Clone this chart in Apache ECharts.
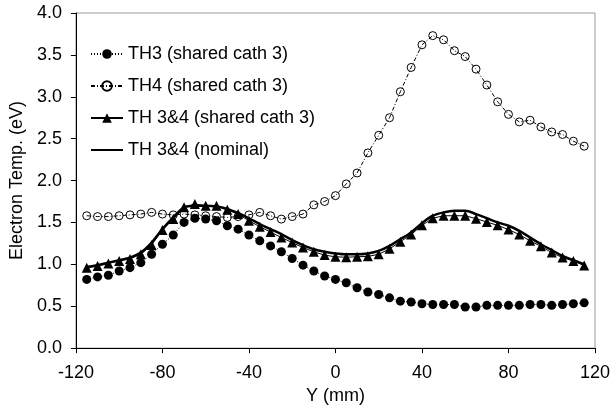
<!DOCTYPE html>
<html>
<head>
<meta charset="utf-8">
<script src="https://cdn.jsdelivr.net/npm/echarts@6/dist/echarts.min.js"></script>
<style>
  html, body { margin: 0; padding: 0; background: #fff; }
  #chart { width: 613px; height: 410px; }
</style>
</head>
<body>
<div id="chart"></div>
<script>
// Probe position across the channel (mm)
const positions = [-115, -110, -105, -100, -95, -90, -85, -80, -75, -70, -65, -60, -55, -50, -45, -40, -35, -30, -25, -20, -15, -10, -5, 0,
  5, 10, 15, 20, 25, 30, 35, 40, 45, 50, 55, 60, 65, 70, 75, 80, 85, 90, 95, 100, 105, 110, 115];

// Electron temperature (eV)
const th3Shared = [0.82, 0.85, 0.87, 0.92, 0.96, 1.02, 1.12, 1.24, 1.35, 1.50, 1.55, 1.54, 1.52, 1.46, 1.42, 1.35, 1.28, 1.22, 1.15, 1.07, 0.99, 0.92, 0.86, 0.82,
  0.78, 0.72, 0.67, 0.64, 0.60, 0.56, 0.55, 0.53, 0.52, 0.52, 0.52, 0.49, 0.49, 0.51, 0.51, 0.51, 0.51, 0.52, 0.52, 0.51, 0.52, 0.53, 0.54];
const th4Shared = [1.58, 1.57, 1.57, 1.58, 1.59, 1.60, 1.62, 1.60, 1.59, 1.60, 1.59, 1.58, 1.57, 1.56, 1.57, 1.59, 1.62, 1.58, 1.54, 1.57, 1.60, 1.71, 1.75, 1.82,
  1.96, 2.09, 2.33, 2.54, 2.75, 3.06, 3.35, 3.62, 3.73, 3.68, 3.55, 3.48, 3.33, 3.14, 2.94, 2.79, 2.70, 2.72, 2.64, 2.58, 2.55, 2.47, 2.41];
const th34Shared = [0.96, 0.98, 1.01, 1.04, 1.065, 1.12, 1.23, 1.41, 1.54, 1.68, 1.72, 1.70, 1.70, 1.65, 1.60, 1.52, 1.45, 1.385, 1.32, 1.26, 1.20, 1.15, 1.11, 1.09,
  1.085, 1.09, 1.095, 1.12, 1.185, 1.27, 1.355, 1.465, 1.55, 1.58, 1.58, 1.58, 1.545, 1.505, 1.465, 1.415, 1.355, 1.28, 1.215, 1.14, 1.08, 1.04, 0.985];
const th34Nominal = [0.97, 0.99, 1.02, 1.05, 1.08, 1.14, 1.26, 1.42, 1.56, 1.68, 1.70, 1.70, 1.69, 1.66, 1.61, 1.55, 1.48, 1.42, 1.36, 1.29, 1.23, 1.18, 1.15, 1.13,
  1.12, 1.12, 1.13, 1.16, 1.22, 1.30, 1.38, 1.49, 1.58, 1.62, 1.64, 1.64, 1.60, 1.55, 1.50, 1.46, 1.40, 1.32, 1.24, 1.17, 1.10, 1.05, 1.00];

const seriesNames = ['TH3 (shared cath 3)', 'TH4 (shared cath 3)', 'TH 3&4 (shared cath 3)', 'TH 3&4 (nominal)'];

const pairs = vals => positions.map((x, i) => [x, vals[i]]);
const FONT = '"Liberation Sans", Arial, sans-serif';

const chart = echarts.init(document.getElementById('chart'), null, { renderer: 'canvas' });
chart.setOption({
  animation: false,
  backgroundColor: '#ffffff',
  textStyle: { fontFamily: FONT, color: '#000' },
  grid: { left: 67, right: 17, top: 13, bottom: 52, show: true, borderColor: '#999', borderWidth: 1 },
  legend: {
    orient: 'vertical',
    left: 85, top: 39,
    itemWidth: 32, itemHeight: 12, itemGap: 12,
    data: [
      { name: seriesNames[0] },
      { name: seriesNames[1] },
      { name: seriesNames[2] },
      // plain line, no marker
      { name: seriesNames[3], itemStyle: { color: 'rgba(0,0,0,0)', borderWidth: 0 } }
    ],
    textStyle: { fontFamily: FONT, fontSize: 18, color: '#000', lineHeight: 20 }
  },
  xAxis: {
    type: 'value', min: -120, max: 120, interval: 40,
    name: 'Y (mm)', nameLocation: 'middle', nameGap: 30,
    nameTextStyle: { fontFamily: FONT, fontSize: 18, color: '#000' },
    axisLine: { onZero: false, lineStyle: { color: '#000', width: 1 } },
    axisTick: { show: true, inside: false, length: 5, lineStyle: { color: '#000' } },
    axisLabel: { fontFamily: FONT, fontSize: 18, color: '#000', margin: 16 },
    splitLine: { show: false }
  },
  yAxis: {
    type: 'value', min: 0, max: 4, interval: 0.5,
    name: 'Electron Temp. (eV)', nameLocation: 'middle', nameGap: 42,
    nameTextStyle: { fontFamily: FONT, fontSize: 18, color: '#000' },
    axisLine: { show: true, onZero: false, lineStyle: { color: '#000', width: 1 } },
    axisTick: { show: true, inside: false, length: 5, lineStyle: { color: '#000' } },
    axisLabel: { fontFamily: FONT, fontSize: 18, color: '#000', margin: 14, formatter: v => v.toFixed(1) },
    splitLine: { show: false }
  },
  series: [
    {
      name: seriesNames[0], type: 'line', data: pairs(th3Shared), z: 2,
      symbol: 'circle', symbolSize: 9,
      lineStyle: { color: '#000', width: 1, type: [1, 2] },
      itemStyle: { color: '#000' }
    },
    {
      name: seriesNames[1], type: 'line', data: pairs(th4Shared), z: 1,
      symbol: 'circle', symbolSize: 8,
      lineStyle: { color: '#000', width: 1, type: [4, 2, 1, 2] },
      itemStyle: { color: 'rgba(255,255,255,0)', borderColor: '#000', borderWidth: 1 }
    },
    {
      name: seriesNames[2], type: 'line', data: pairs(th34Shared), z: 3,
      symbol: 'triangle', symbolSize: 10,
      lineStyle: { color: '#000', width: 1 },
      itemStyle: { color: '#000' }
    },
    {
      name: seriesNames[3], type: 'line', data: pairs(th34Nominal), z: 4,
      symbol: 'none', smooth: 0.3,
      lineStyle: { color: '#000', width: 2.5 },
      itemStyle: { color: '#000' }
    }
  ]
});
</script>
</body>
</html>
